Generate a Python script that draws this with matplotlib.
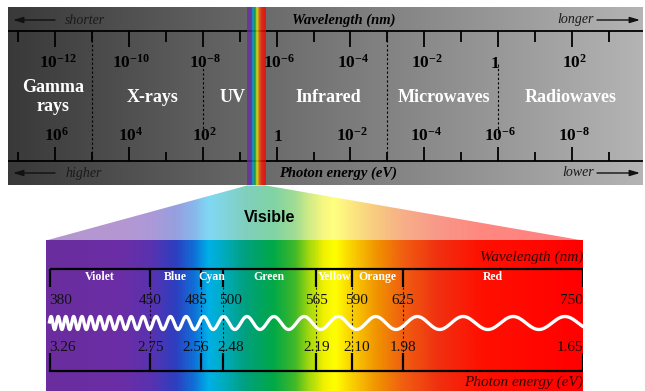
import numpy as np
import matplotlib.pyplot as plt
from matplotlib.colors import LinearSegmentedColormap
from matplotlib.patches import Polygon

plt.rcParams['font.family'] = 'Liberation Serif'
plt.rcParams['mathtext.fontset'] = 'custom'
plt.rcParams['mathtext.rm'] = 'Liberation Serif'
plt.rcParams['mathtext.bf'] = 'Liberation Serif:bold'

# --- full spectrum (decades of wavelength in nm) ---
decade_ticks = list(range(-13, 4))
wl_label_exp = [-12, -10, -8, -6, -4, -2, 0, 2]
en_label_exp = [6, 4, 2, 0, -2, -4, -6, -8]
band_names = ['Gamma\nrays', 'X-rays', 'UV', 'Infrared', 'Microwaves', 'Radiowaves']
band_name_pos = [-12.05, -9.35, -7.2, -4.6, -1.47, 1.97]
full_borders = [-11, -3]
half_borders = [-8, 0]
visible_span = [-6.80, -6.29]

# --- visible part ---
color_names = ['Violet', 'Blue', 'Cyan', 'Green', 'Yellow', 'Orange', 'Red']
edges_nm = [380, 450, 485, 500, 565, 590, 625, 750]
edges_ev = [3.26, 2.75, 2.56, 2.48, 2.19, 2.10, 1.98, 1.65]
# numbers near crowded edges sit a little aside (nm)
label_shift_nm = [0, 0, -3.5, 5.5, 0, 3, 0, 0]

spec_nm = [380, 430, 450, 467, 480, 490, 500, 515, 535, 550, 560, 570, 578,
           592, 607, 625, 650, 680, 750]
spec_col = ['#6b2d9e', '#6a2ea6', '#5a32b0', '#2c3fc0', '#1070d8', '#00b0e8',
            '#00acc0', '#00a080', '#00a848', '#40b828', '#a0d810', '#f0f000',
            '#ffff00', '#f8c800', '#f09400', '#f06010', '#f03010', '#ff1000',
            '#ff0000']

# local period of the drawn wave (nm) along the visible scale
wave_nm = [380, 415, 450, 485, 520, 568, 623, 679, 750]
wave_period_nm = [4.8, 6.5, 9.0, 12.5, 18.0, 23.6, 29.0, 34.7, 36.8]

W, H = 645, 391
fig = plt.figure(figsize=(W / 100, H / 100), dpi=100, facecolor='white')

spec_cmap = LinearSegmentedColormap.from_list(
    'spec', [((n - 380) / 370, c) for n, c in zip(spec_nm, spec_col)])
gray_cmap = LinearSegmentedColormap.from_list('g', ['#393939', '#b4b4b4'])

# ---------------- top band ----------------
px_dec, x_m12 = 36.93, 55
d_left = -12 + (8 - x_m12) / px_dec
d_right = -12 + (643 - x_m12) / px_dec
ax_top = fig.add_axes([8 / W, 1 - 185 / H, 635 / W, 178 / H])
ax_top.imshow(np.linspace(0, 1, 256)[None, :], cmap=gray_cmap, aspect='auto',
              extent=(d_left, d_right, 185, 7), interpolation='bilinear', zorder=0)

ax_top.axhline(31, color='black', lw=1.3, zorder=2)
ax_top.axhline(161, color='black', lw=1.3, zorder=2)
for d in decade_ticks:
    long = d in wl_label_exp
    ax_top.vlines(d, 31, 47 if long else 42, color='black', lw=1.3, zorder=2)
    ax_top.vlines(d, 147 if long else 152, 161, color='black', lw=1.3, zorder=2)
ax_top.vlines(full_borders, 31, 161, color='black', lw=0.8,
              linestyles=(0, (2, 2)), zorder=2)
ax_top.vlines(half_borders, 64, 134, color='black', lw=0.8,
              linestyles=(0, (2, 2)), zorder=2)

for e in wl_label_exp:
    s = '1' if e == 0 else r'$\mathbf{10^{%d}}$' % e
    ax_top.text(e + (-0.08 if e == 0 else 0.07), 68, s, ha='center',
                va='baseline', fontsize=12.5, weight='bold', color='black',
                zorder=4)
for e_wl, e in zip(wl_label_exp, en_label_exp):
    s = '1' if e == 0 else r'$\mathbf{10^{%d}}$' % e
    ax_top.text(e_wl + 0.05, 141, s, ha='center', va='baseline', fontsize=12.5,
                weight='bold', color='black', zorder=4)
for name, pos in zip(band_names, band_name_pos):
    ax_top.text(pos, 97, name, ha='center', va='center', fontsize=13,
                weight='bold', color='white', linespacing=1.15, zorder=4)

ax_top.imshow(np.linspace(0, 1, 200)[None, :], cmap=spec_cmap, aspect='auto',
              extent=(visible_span[0], visible_span[1], 185, 7), alpha=0.78,
              interpolation='bilinear', zorder=3)
ax_top.set_xlim(d_left, d_right)
ax_top.set_ylim(185, 7)
ax_top.axis('off')

# ---------------- visible band ----------------
px_nm = (583 - 49.5) / 370
lam_left = 380 - (49.5 - 46) / px_nm
ax_bot = fig.add_axes([46 / W, 0, 537 / W, 206 / H])
ax_bot.set_xlim(lam_left, 750)
ax_bot.set_ylim(391, 185)

lam = np.linspace(lam_left, 750, 800)
vals = np.clip((lam - 380) / 370, 0, 1)[None, :]
ax_bot.imshow(vals, cmap=spec_cmap, vmin=0, vmax=1, aspect='auto',
              extent=(lam_left, 750, 391, 240), interpolation='bilinear', zorder=0)

# fan from the strip down to the visible band
fan_top = []
for d in visible_span:
    disp = ax_top.transData.transform((d, 185))
    fan_top.append(ax_bot.transData.inverted().transform(disp)[0])
fan = Polygon([(lam_left, 240.5), (fan_top[0], 185.5), (fan_top[1], 185.5),
               (750, 240.5)], closed=True, facecolor='none', edgecolor='none')
ax_bot.add_patch(fan)
im = ax_bot.imshow(vals, cmap=spec_cmap, vmin=0, vmax=1, aspect='auto',
                   extent=(lam_left, 750, 240.5, 185), alpha=0.5,
                   interpolation='bilinear', zorder=0)
im.set_clip_path(fan)

ax_bot.hlines([269, 371], 380, 750, color='black', lw=1.6, zorder=2)
ax_bot.vlines(edges_nm, 268.5, 287, color='black', lw=1.6, zorder=2)
ax_bot.vlines(edges_nm, 353, 371.5, color='black', lw=1.6, zorder=2)
ax_bot.vlines(edges_nm[1:-1], 287, 353, color='black', lw=0.8,
              linestyles=(0, (2, 2)), alpha=0.8, zorder=2)

for i, name in enumerate(color_names):
    ax_bot.text((edges_nm[i] + edges_nm[i + 1]) / 2, 277, name, ha='center',
                va='center', fontsize=8.5, weight='bold', color='white', zorder=4)
for i, (nm, ev, sh) in enumerate(zip(edges_nm, edges_ev, label_shift_nm)):
    ha = 'left' if i == 0 else ('right' if i == len(edges_nm) - 1 else 'center')
    ax_bot.text(nm + sh, 300, str(nm), ha=ha, va='center', fontsize=11,
                color='#111111', zorder=4)
    ax_bot.text(nm + sh, 347.5, '%.2f' % ev, ha=ha, va='center', fontsize=11,
                color='#111111', zorder=4)

lam_w = np.linspace(380, 750, 4000)
period = np.interp(lam_w, wave_nm, wave_period_nm)
cyc = np.concatenate([[0], np.cumsum(np.diff(lam_w) / period[1:])])
cyc -= np.interp(737.5, lam_w, cyc)
ax_bot.plot(lam_w, 323 - 6.5 * np.cos(2 * np.pi * cyc), color='white', lw=2.4,
            zorder=3)

ax_bot.text(750, 257, 'Wavelength (nm)', ha='right', va='center', fontsize=11,
            style='italic', color='#2e0606', zorder=4)
ax_bot.text(750, 382, 'Photon energy (eV)', ha='right', va='center',
            fontsize=11, style='italic', color='#2e0606', zorder=4)
ax_bot.axis('off')

# ---------------- overlay texts (pixel coordinates) ----------------
ax_ov = fig.add_axes([0, 0, 1, 1])
ax_ov.set_xlim(0, W)
ax_ov.set_ylim(H, 0)
ax_ov.axis('off')

arrow = dict(arrowstyle='-|>,head_length=0.6,head_width=0.18', lw=1.0,
             color='#111111', shrinkA=0, shrinkB=0)
for y, left_word, mid_word, mid_x, right_word in [
        (20, 'shorter', 'Wavelength (nm)', 343.5, 'longer'),
        (173, 'higher', 'Photon energy (eV)', 338, 'lower')]:
    ax_ov.annotate('', xy=(13, y), xytext=(55, y), arrowprops=arrow)
    ax_ov.annotate('', xy=(640, y), xytext=(597, y), arrowprops=arrow)
    ax_ov.text(65, y, left_word, ha='left', va='center', fontsize=10,
               style='italic', color='#1a1a1a')
    ax_ov.text(594, y, right_word, ha='right', va='center', fontsize=10,
               style='italic', color='#1a1a1a')
    ax_ov.text(mid_x, y + 0.5, mid_word, ha='center', va='center', fontsize=10.5,
               style='italic', weight='bold', color='black')

ax_ov.text(270, 218, 'Visible', ha='center', va='center', fontsize=11.5,
           weight='bold', family='Liberation Sans', color='black')

fig.savefig('out.png', dpi=100, facecolor='white')
